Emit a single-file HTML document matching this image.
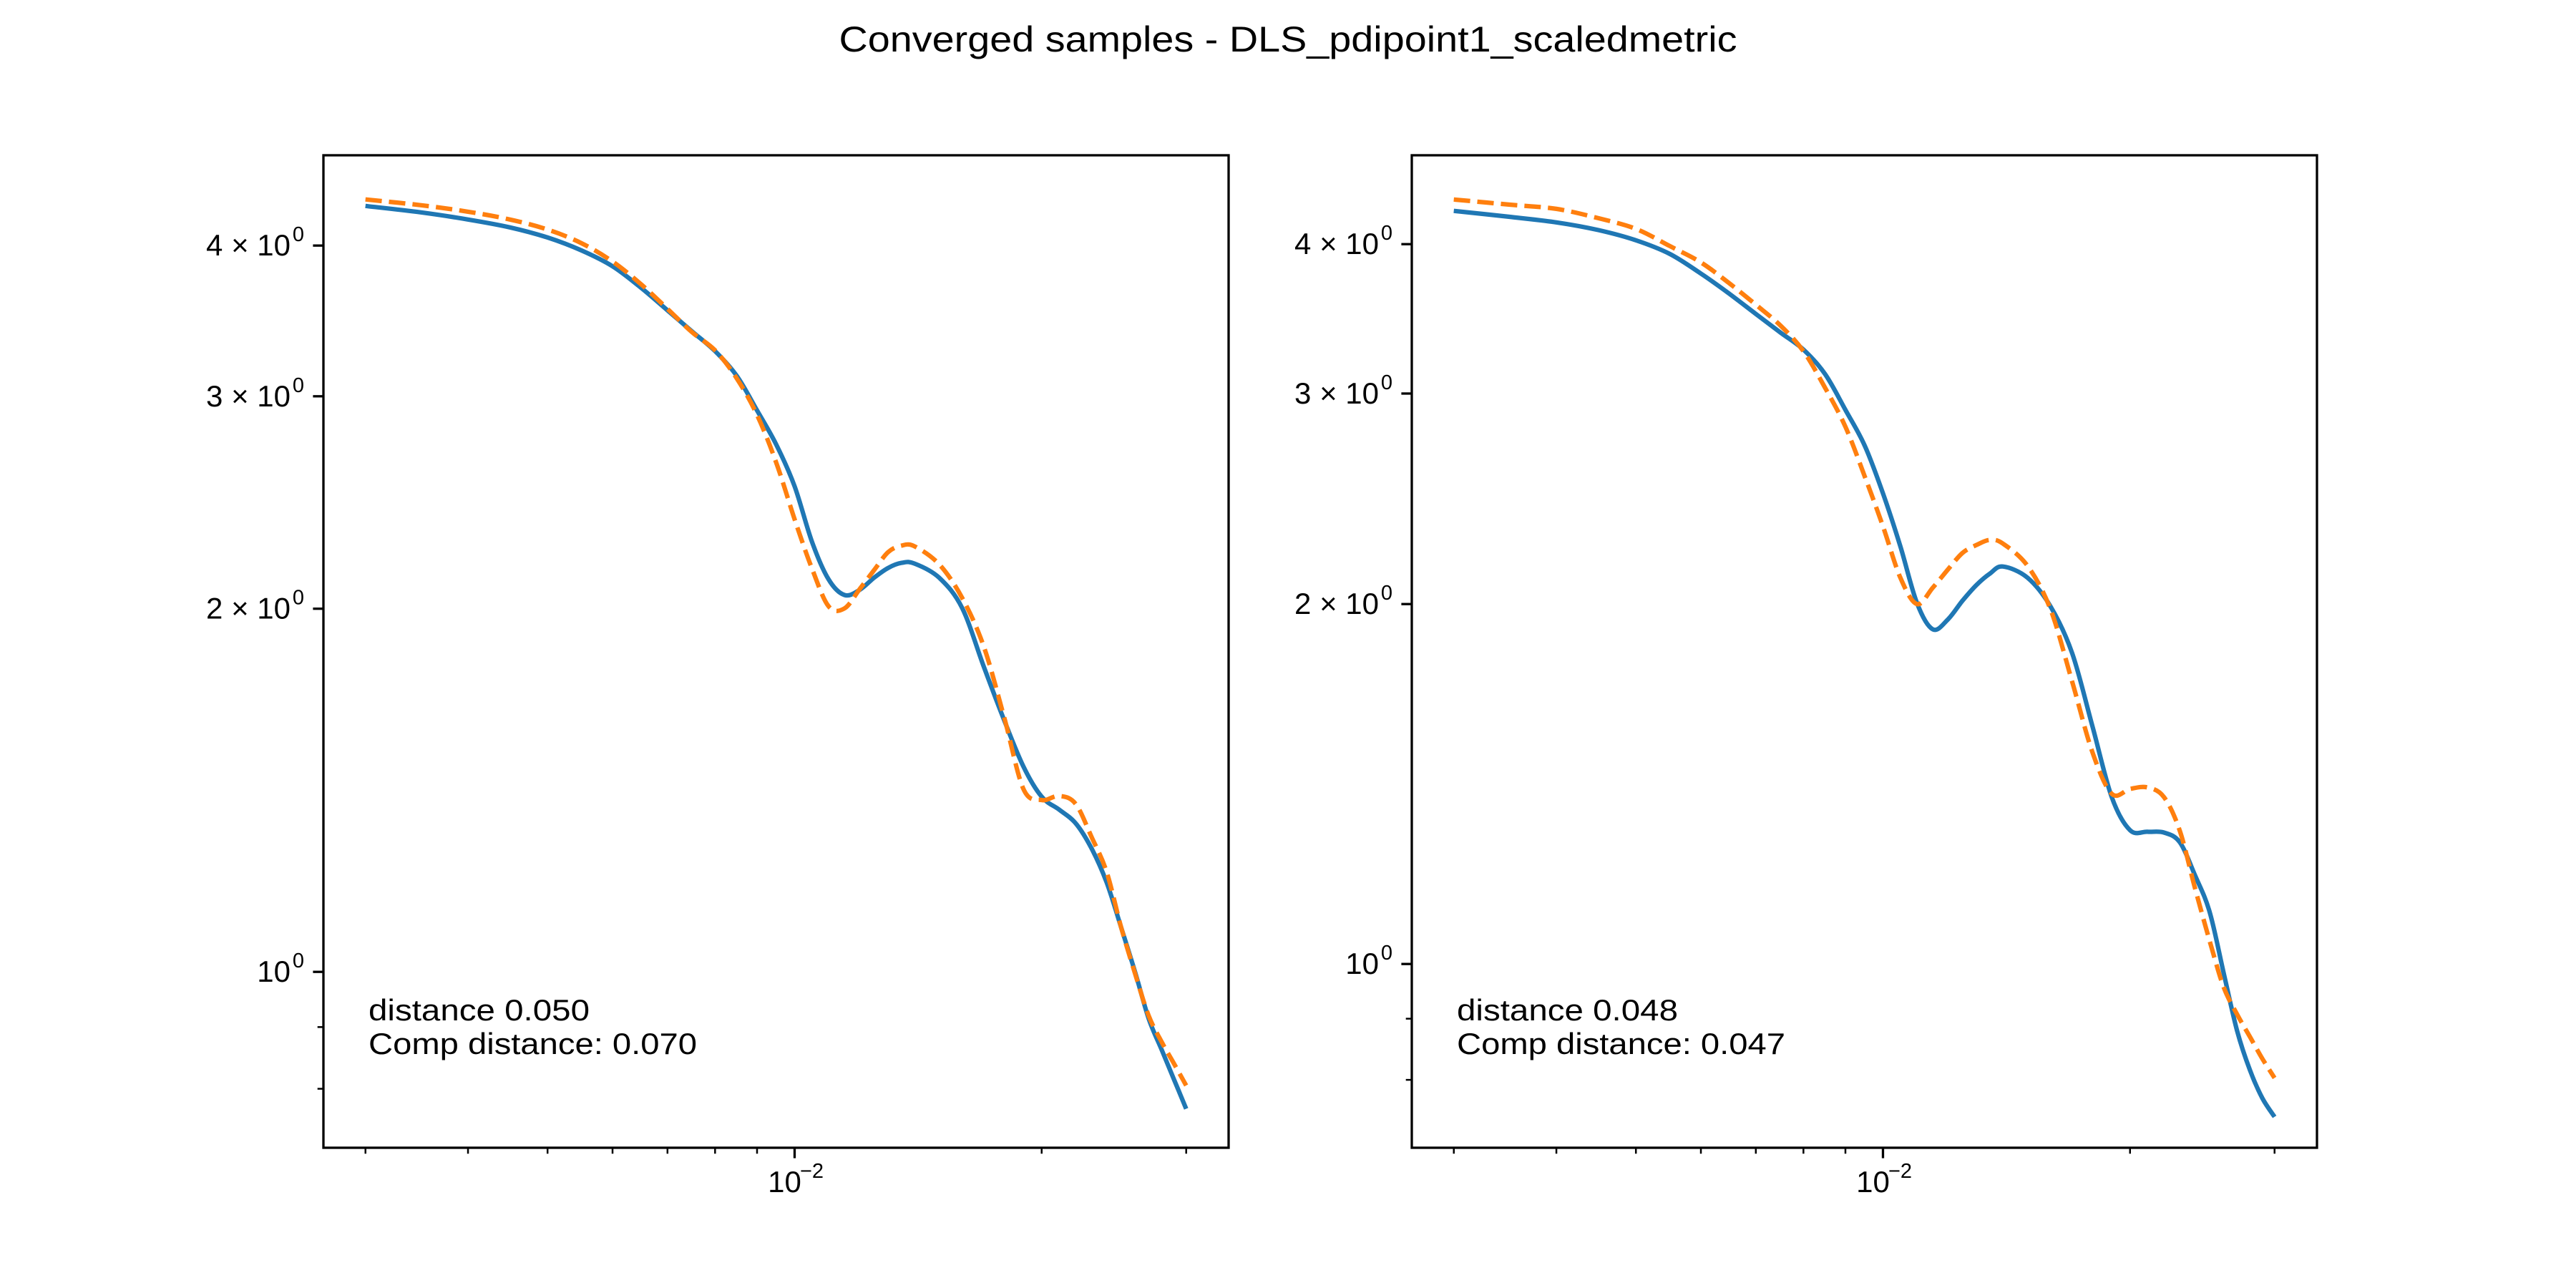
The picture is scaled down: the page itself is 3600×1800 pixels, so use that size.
<!DOCTYPE html>
<html><head><meta charset="utf-8"><style>
html,body{margin:0;padding:0;background:#fff;}
svg{display:block;font-family:"Liberation Sans","DejaVu Sans",sans-serif;}
</style></head><body>
<svg id="fig" width="3600" height="1800" viewBox="0 0 3600 1800" xmlns="http://www.w3.org/2000/svg">
<rect width="3600" height="1800" fill="#fff"/>
<text x="1800" y="72" font-size="50" text-anchor="middle" textLength="1255" lengthAdjust="spacingAndGlyphs">Converged samples - DLS_pdipoint1_scaledmetric</text>
<g id="p0"></g>
<g id="p1"></g>
</svg>
<script>
const qGrid = [0.003,0.0035,0.004,0.0045,0.005,0.0055,0.006,0.0065,0.007,0.0075,0.008,0.0085,0.009,0.0095,0.010,0.0105,0.011,0.0115,0.012,0.0125,0.013,0.0135,0.014,0.015,0.016,0.017,0.018,0.019,0.020,0.021,0.022,0.023,0.024,0.025,0.026,0.027,0.028,0.029,0.030];
const leftFit = [4.314,4.262,4.204,4.141,4.062,3.963,3.845,3.690,3.535,3.395,3.270,3.120,2.920,2.735,2.526,2.272,2.115,2.053,2.073,2.122,2.162,2.183,2.180,2.122,2.003,1.791,1.617,1.480,1.397,1.363,1.328,1.266,1.186,1.088,0.999,0.915,0.862,0.814,0.770];
const leftComp = [4.368,4.321,4.267,4.204,4.124,4.018,3.880,3.715,3.545,3.390,3.275,3.105,2.895,2.642,2.372,2.159,2.009,2.001,2.076,2.153,2.228,2.256,2.253,2.177,2.042,1.861,1.626,1.418,1.388,1.399,1.378,1.294,1.210,1.088,0.996,0.920,0.875,0.839,0.805];
const rightFit = [4.265,4.217,4.171,4.110,4.030,3.925,3.780,3.635,3.497,3.374,3.265,3.115,2.907,2.714,2.475,2.235,2.004,1.905,1.942,2.013,2.075,2.121,2.150,2.104,1.991,1.820,1.580,1.379,1.294,1.290,1.288,1.264,1.186,1.106,0.984,0.880,0.815,0.772,0.745];
const rightComp = [4.359,4.317,4.281,4.205,4.120,3.985,3.862,3.709,3.560,3.420,3.255,3.034,2.814,2.558,2.323,2.104,2.000,2.064,2.138,2.207,2.241,2.263,2.247,2.153,1.980,1.723,1.503,1.388,1.401,1.405,1.379,1.292,1.157,1.046,0.957,0.908,0.869,0.833,0.803];
const distances = ["distance 0.050","distance 0.048"];
const compDistances = ["Comp distance: 0.070","Comp distance: 0.047"];
const yMajorTicks = [1,2,3,4];
const yMajorLabels = ["10","2 \u00d7 10","3 \u00d7 10","4 \u00d7 10"];
const yMinorTicks = [0.6,0.7,0.8,0.9];
const xMinorTicks = [0.003,0.004,0.005,0.006,0.007,0.008,0.009,0.02,0.03];
const xMajorTicks = [0.01];
const yLims = [[-0.1458,0.6769],[-0.1537,0.6764]];
const xLim = [-2.5741,-1.4712];

const NS="http://www.w3.org/2000/svg";
function mk(tag, attrs, parent){const e=document.createElementNS(NS,tag);for(const k in attrs)e.setAttribute(k,attrs[k]);parent.appendChild(e);return e;}
function smooth(pts){
  let d='M'+pts[0][0].toFixed(1)+' '+pts[0][1].toFixed(1);
  for(let i=0;i<pts.length-1;i++){
    const p0=pts[Math.max(0,i-1)],p1=pts[i],p2=pts[i+1],p3=pts[Math.min(pts.length-1,i+2)];
    const c1x=p1[0]+(p2[0]-p0[0])/6,c1y=p1[1]+(p2[1]-p0[1])/6;
    const c2x=p2[0]-(p3[0]-p1[0])/6,c2y=p2[1]-(p3[1]-p1[1])/6;
    d+='C'+c1x.toFixed(1)+' '+c1y.toFixed(1)+' '+c2x.toFixed(1)+' '+c2y.toFixed(1)+' '+p2[0].toFixed(1)+' '+p2[1].toFixed(1);
  }
  return d;
}

function drawPanel(idx, fit, comp){
  const g=document.getElementById('p'+idx);
  const L=452+idx*1521, R=L+1265, T=217, B=1604;
  const xs=q=>L+(Math.log10(q)-xLim[0])/(xLim[1]-xLim[0])*(R-L);
  const ys=v=>B-(Math.log10(v)-yLims[idx][0])/(yLims[idx][1]-yLims[idx][0])*(B-T);
  const inY=v=>{const y=ys(v);return y>=T-0.5&&y<=B+2;};
  const s1=mk('path',{d:smooth(qGrid.map((q,i)=>[xs(q),ys(fit[i])])),fill:'none',stroke:'#1f77b4','stroke-width':6.25,'stroke-linejoin':'round'},g);
  
  
  const s2=mk('path',{d:smooth(qGrid.map((q,i)=>[xs(q),ys(comp[i])])),fill:'none',stroke:'#ff7f0e','stroke-width':6.25,'stroke-dasharray':'23 10'},g);
  
  
  const fr=mk('rect',{x:L,y:T,width:R-L,height:B-T,fill:'none',stroke:'#000','stroke-width':3.3},g);
  
  
  yMajorTicks.forEach((v,i)=>{
    if(!inY(v))return;const y=ys(v);
    const t=mk('line',{x1:L,x2:L-14.6,y1:y,y2:y,stroke:'#000','stroke-width':3.3},g);
    
    
    const tx=mk('text',{x:L-46,y:y+14,'font-size':42,'text-anchor':'end'},g);
    tx.textContent=yMajorLabels[i];
    
    
    const sup=mk('text',{x:L-35,y:y-6,'font-size':29,'text-anchor':'middle'},g);
    sup.textContent='0';
    
    
  });
  yMinorTicks.forEach(v=>{
    if(!inY(v))return;const y=ys(v);
    const t=mk('line',{x1:L,x2:L-8.3,y1:y,y2:y,stroke:'#000','stroke-width':2.5},g);
    
    
  });
  xMinorTicks.forEach(q=>{
    const x=xs(q);
    const t=mk('line',{x1:x,x2:x,y1:B,y2:B+8.3,stroke:'#000','stroke-width':2.5},g);
    
    
  });
  xMajorTicks.forEach(q=>{
    const x=xs(q);
    const t=mk('line',{x1:x,x2:x,y1:B,y2:B+14.6,stroke:'#000','stroke-width':3.3},g);
    
    
    const tx=mk('text',{x:x-14,y:B+62,'font-size':42,'text-anchor':'middle'},g);
    tx.textContent='10';
    
    
    const sup=mk('text',{x:x+24,y:B+42,'font-size':29,'text-anchor':'middle'},g);
    sup.textContent='\u22122';
    
    
  });
  const a1=mk('text',{x:L+63,y:1426,'font-size':42,textLength:309,lengthAdjust:'spacingAndGlyphs'},g);
  a1.textContent=distances[idx];
  
  
  const a2=mk('text',{x:L+63,y:1473,'font-size':42,textLength:459,lengthAdjust:'spacingAndGlyphs'},g);
  a2.textContent=compDistances[idx];
  
  
}
drawPanel(0,leftFit,leftComp);
drawPanel(1,rightFit,rightComp);
</script>
</body></html>
